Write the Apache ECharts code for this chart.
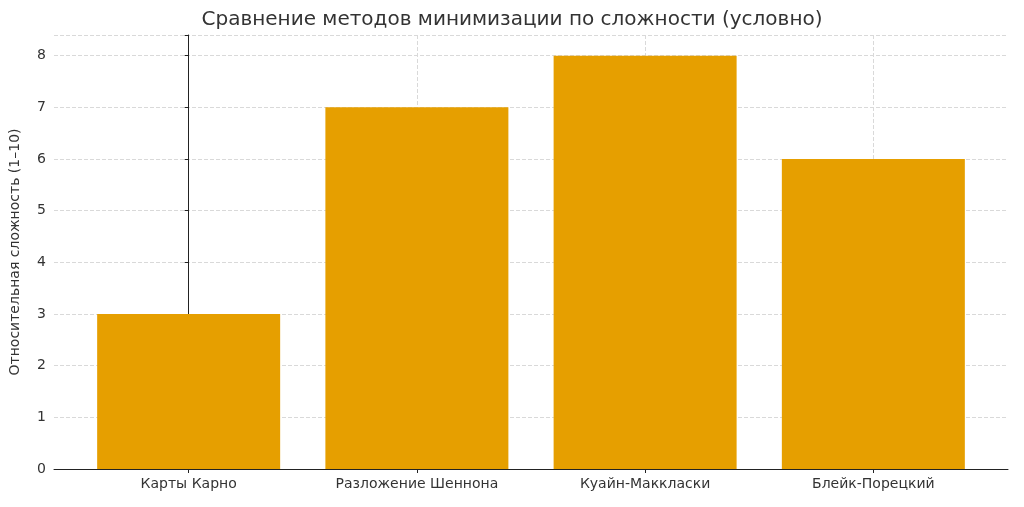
<!DOCTYPE html>
<html>
<head>
<meta charset="utf-8">
<script src="https://cdn.jsdelivr.net/npm/echarts@6/dist/echarts.min.js"></script>
<style>html,body{margin:0;padding:0;background:#fff}#chart{width:1024px;height:507px}</style>
</head>
<body>
<div id="chart"></div>
<script>
// данные графика
var methods = ["Карты Карно", "Разложение Шеннона", "Куайн-Маккласки", "Блейк-Порецкий"];
var complexity = [3, 7, 8, 6];
var yTicks = [0, 1, 2, 3, 4, 5, 6, 7, 8];

var chart = echarts.init(document.getElementById("chart"));
var positions = methods.map(function(m, i) { return i; });
var gridLine = { show: true, lineStyle: { color: "#d9d9d9", type: "dashed", width: 1 } };

chart.setOption({
  animation: false,
  textStyle: { fontFamily: "DejaVu Sans" },
  title: {
    text: "Сравнение методов минимизации по сложности (условно)",
    left: "center", top: 5,
    textStyle: { fontSize: 20, fontWeight: "normal", color: "#333" }
  },
  grid: { left: 50, right: 16, top: 35, bottom: 38 },
  xAxis: {
    type: "value", min: -0.59, max: 3.59,
    axisLine: { show: true, lineStyle: { color: "#222" } },
    axisTick: { show: true, customValues: positions, length: 4, lineStyle: { color: "#222" } },
    axisLabel: {
      customValues: positions, fontSize: 14, color: "#333", margin: 8,
      formatter: function(v) { return methods[Math.round(v)] || ""; }
    },
    splitLine: gridLine
  },
  yAxis: {
    type: "value", min: 0, max: 8.4, interval: 1,
    name: "Относительная сложность (1–10)",
    nameLocation: "middle", nameGap: 32,
    nameTextStyle: { fontSize: 14, color: "#333" },
    axisLine: { show: true, lineStyle: { color: "#222" } },
    axisTick: { show: true, length: 4, lineStyle: { color: "#222" } },
    axisLabel: {
      fontSize: 14, color: "#333",
      formatter: function(v) { return yTicks.indexOf(v) >= 0 ? String(v) : ""; }
    },
    splitLine: gridLine
  },
  series: [{
    type: "bar",
    barWidth: 183,
    itemStyle: { color: "#E69F00" },
    data: complexity.map(function(v, i) { return [positions[i], v]; })
  }]
});
</script>
</body>
</html>
